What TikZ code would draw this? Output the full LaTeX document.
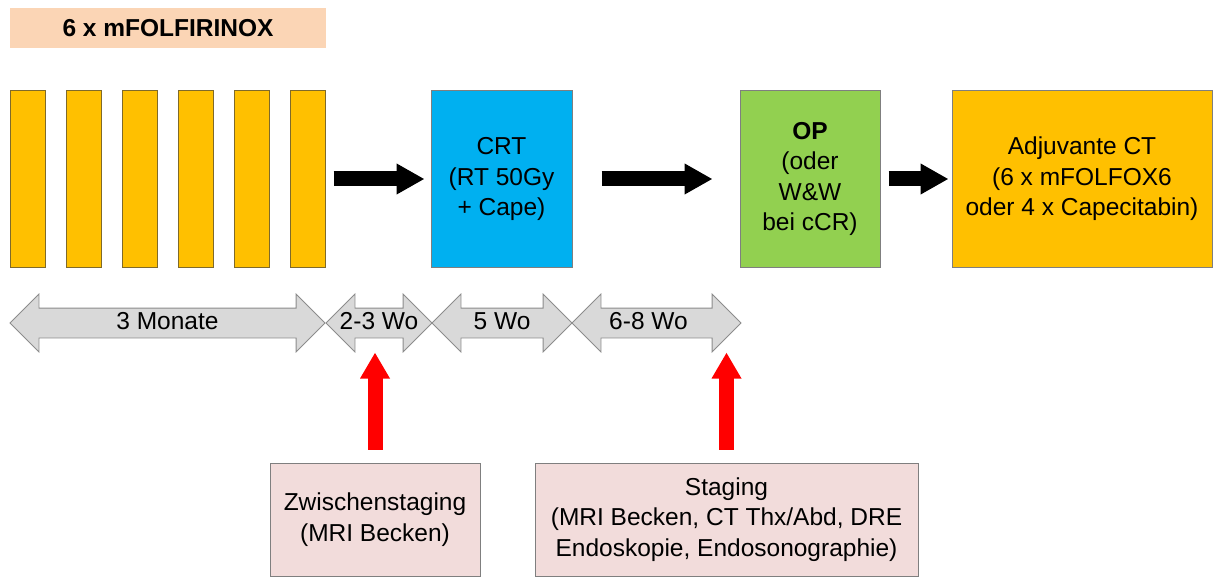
\documentclass[tikz,border=0pt]{standalone}
\usepackage{fontspec}
\setmainfont{Liberation Sans}
\usetikzlibrary{shapes.arrows,arrows.meta,calc}
\definecolor{headfill}{HTML}{FBD5B5}
\definecolor{barfill}{HTML}{FFC000}
\definecolor{barline}{HTML}{7F6A2A}
\definecolor{boxline}{HTML}{7F7F7F}
\definecolor{crtfill}{HTML}{00B0F0}
\definecolor{opfill}{HTML}{92D050}
\definecolor{stagefill}{HTML}{F2DCDB}
\definecolor{spanfill}{HTML}{D9D9D9}
\definecolor{spanline}{HTML}{8C8C8C}
\begin{document}
\begin{tikzpicture}[x=1pt,y=-1pt,
    every node/.style={font=\fontsize{24.5}{30.5}\selectfont, align=center, inner sep=0pt},
    box/.style={rectangle, draw=boxline, line width=1pt},
    bar/.style={box, draw=barline, fill=barfill, minimum width=35pt, minimum height=176pt},
    timespan/.style={double arrow, draw=spanline, fill=spanfill, line width=0.8pt,
        double arrow head extend=14pt, double arrow tip angle=90, double arrow head indent=0pt,
        text height=17pt, text depth=5pt, inner ysep=3.5pt, inner xsep=0pt},
    push/.style={line width=15pt, -{Triangle[length=28pt,width=29pt]}},
    check/.style={draw=red, line width=15pt, -{Triangle[length=26pt,width=28pt]}}]
    \useasboundingbox (0,0) rectangle (1217,577);
    % header
    \node[fill=headfill, minimum width=316pt, minimum height=40pt] (head) at (168,28) {\textbf{6 x mFOLFIRINOX}};
    % treatment blocks
    \foreach \i in {1,...,6}
        \node[bar] (bar\i) at ({27.5+56*(\i-1)},179) {};
    \node[box, fill=crtfill, minimum width=141pt, minimum height=176pt] (crt) at (501.5,179) {CRT\\(RT 50Gy\\+ Cape)};
    \node[box, fill=opfill, minimum width=140pt, minimum height=176pt] (op) at (810,179) {\textbf{OP}\\(oder\\W\&W\\bei cCR)};
    \node[box, fill=barfill, minimum width=260pt, minimum height=176pt] (adj) at (1082,179) {Adjuvante CT\\(6 x mFOLFOX6\\oder 4 x Capecitabin)};
    \draw[push] ([xshift=8pt]bar6.east) -- ([xshift=-6pt]crt.west);
    \draw[push] ([xshift=29pt]crt.east) -- ([xshift=-27pt]op.west);
    \draw[push] ([xshift=8pt]op.east) -- ([xshift=-3pt]adj.west);
    % time line
    \foreach \name/\x/\len/\dx/\lbl in {months/167.5/315/0/3 Monate, interim/379/106/0/2-3 Wo,
        crtspan/502/140/0/5 Wo, waitspan/656.5/169/-8/6-8 Wo}
        \node[timespan, minimum height=\len pt] (\name) at (\x,323) {\kern\dx pt\makebox[0pt]{\lbl}\kern-\dx pt};
    % staging
    \node[box, fill=stagefill, minimum width=210pt, minimum height=113pt] (zw) at (375,519.5) {Zwischenstaging\\(MRI Becken)};
    \node[box, fill=stagefill, minimum width=383pt, minimum height=113pt] (stage) at (726.5,519.5) {Staging\\(MRI Becken, CT Thx/Abd, DRE\\Endoskopie, Endosonographie)};
    \draw[check] ([yshift=13pt]zw.north) -- ($(zw.north |- interim.center)+(0,29.5)$);
    \draw[check] ([yshift=13pt]stage.north) -- ($(stage.north |- waitspan.center)+(0,29.5)$);
\end{tikzpicture}
\end{document}
